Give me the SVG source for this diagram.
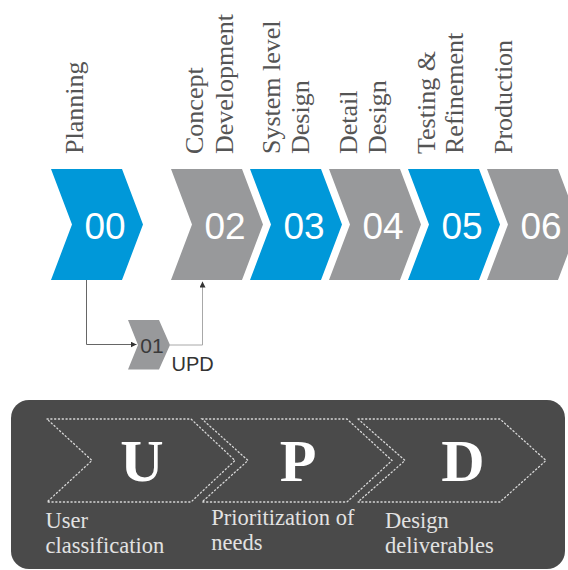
<svg xmlns="http://www.w3.org/2000/svg" width="568" height="570" viewBox="0 0 568 570">
<style>
.blue{fill:#0098d9}
.gray{fill:#98999b}
.num{font-family:"Liberation Sans",Arial,sans-serif;font-size:37px;fill:#ffffff;text-anchor:middle}
.lbl{font-family:"Liberation Serif","Times New Roman",serif;font-size:26px;fill:#555555}
.conn{fill:none;stroke-width:1}
.dot{fill:none;stroke:#d8d8d8;stroke-width:1.3;stroke-dasharray:1.2 2.6;stroke-linecap:round}
.big{font-family:"Liberation Serif","Times New Roman",serif;font-size:60px;font-weight:bold;fill:#ffffff;text-anchor:middle}
.sub{font-family:"Liberation Serif","Times New Roman",serif;font-size:22.5px;fill:#e2e2e2}
</style>
<defs>
<polygon id="chev" points="0,0 71,0 92,55.5 71,111 0,111 21,55.5"/>
<marker id="ah" viewBox="0 0 6 6" refX="6" refY="3" markerWidth="6" markerHeight="6" orient="auto" markerUnits="userSpaceOnUse">
<path d="M0,0 L6,3 L0,6 Z" fill="#333333"/>
</marker>
</defs>
<rect width="568" height="570" fill="#ffffff"/>

<g id="labels">
<text class="lbl" transform="translate(82.5,154) rotate(-90)">Planning</text>
<text class="lbl" transform="translate(202.5,154) rotate(-90)"><tspan x="0" y="0">Concept</tspan><tspan x="0" y="30">Development</tspan></text>
<text class="lbl" transform="translate(280,154) rotate(-90)"><tspan x="0" y="0">System level</tspan><tspan x="0" y="29">Design</tspan></text>
<text class="lbl" transform="translate(357,154) rotate(-90)"><tspan x="0" y="0">Detail</tspan><tspan x="0" y="29">Design</tspan></text>
<text class="lbl" transform="translate(434.5,154) rotate(-90)"><tspan x="0" y="0">Testing &amp;</tspan><tspan x="0" y="28.5">Refinement</tspan></text>
<text class="lbl" transform="translate(512,154) rotate(-90)">Production</text>
</g>

<g id="n00"><use href="#chev" class="blue" x="51" y="169"/><text class="num" x="105" y="239">00</text></g>
<g id="n02"><use href="#chev" class="gray" x="171" y="169"/><text class="num" x="225" y="239">02</text></g>
<g id="n03"><use href="#chev" class="blue" x="250" y="169"/><text class="num" x="304" y="239">03</text></g>
<g id="n04"><use href="#chev" class="gray" x="329" y="169"/><text class="num" x="383" y="239">04</text></g>
<g id="n05"><use href="#chev" class="blue" x="408" y="169"/><text class="num" x="462" y="239">05</text></g>
<g id="n06"><use href="#chev" class="gray" x="487" y="169"/><text class="num" x="541" y="239">06</text></g>

<g id="n01">
<polygon class="gray" points="128,320 159,320 170,345 159,369.5 128,369.5 138,345"/>
<text x="152" y="353" font-family="Liberation Sans, Arial, sans-serif" font-size="21" fill="#3a3a3a" text-anchor="middle">01</text>
</g>
<g id="upd-label">
<text x="171.5" y="371" font-family="Liberation Sans, Arial, sans-serif" font-size="20" fill="#333333">UPD</text>
</g>

<g id="connectors">
<path class="conn" stroke="#666666" d="M86.5,280 V344.5 H136.5" marker-end="url(#ah)"/>
<path class="conn" stroke="#a8a8a8" d="M170,345 H202.5 V281.5" marker-end="url(#ah)"/>
</g>

<g id="upd-panel">
<rect x="11" y="400" width="554" height="169" rx="18" fill="#4a4a4a"/>
<g id="u">
<polygon class="dot" points="47,419 191,419 235,460.5 191,502 47,502 92,460.5"/>
<text class="big" x="142" y="480.5">U</text>
<text class="sub" x="45.5" y="528"><tspan x="45.5">User</tspan><tspan x="45.5" y="553">classification</tspan></text>
</g>
<g id="p">
<polygon class="dot" points="202,419 347,419 392,460.5 347,502 202,502 248,460.5"/>
<text class="big" x="298" y="480.5">P</text>
<text class="sub" x="211.3" y="525"><tspan x="211.3">Prioritization of</tspan><tspan x="211.3" y="550">needs</tspan></text>
</g>
<g id="d">
<polygon class="dot" points="358,419 500,419 546,460.5 500,502 358,502 405,460.5"/>
<text class="big" x="463" y="480.5">D</text>
<text class="sub" x="385" y="527.7"><tspan x="385">Design</tspan><tspan x="385" y="553">deliverables</tspan></text>
</g>
</g>
</svg>
